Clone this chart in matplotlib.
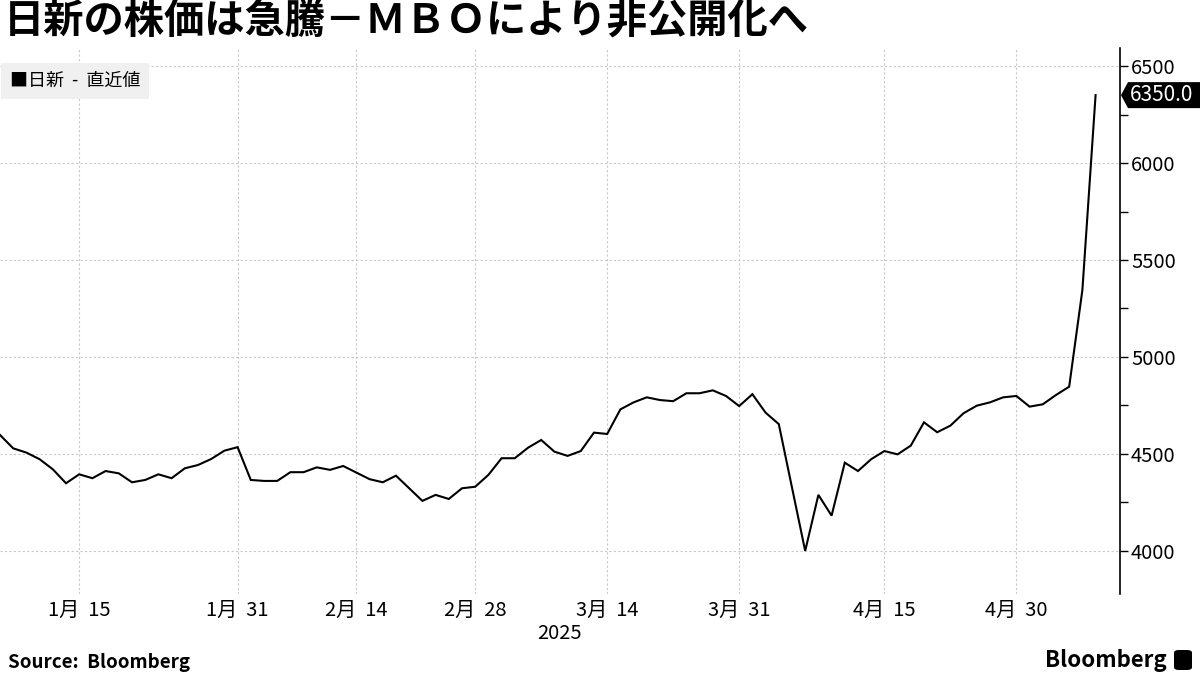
import numpy as np
import pandas as pd
import matplotlib
matplotlib.use("Agg")
import matplotlib.pyplot as plt
from matplotlib.patches import Polygon, FancyBboxPatch
from matplotlib.ticker import MultipleLocator
from matplotlib.transforms import IdentityTransform

plt.rcParams['font.family'] = ['Noto Sans CJK JP', 'DejaVu Sans']

# Tokyo trading days, 2025-01-06 .. 2025-05-12
holidays = ['2025-01-13', '2025-02-11', '2025-02-24', '2025-03-20',
            '2025-04-29', '2025-05-05', '2025-05-06']
dates = pd.bdate_range('2025-01-06', '2025-05-12', freq='C', holidays=holidays)

# closing price (yen)
prices = [4598, 4529, 4507, 4473, 4421, 4349, 4395, 4375, 4412, 4400,
          4354, 4366, 4395, 4375, 4426, 4443, 4474, 4517, 4535, 4366,
          4361, 4361, 4406, 4406, 4431, 4418, 4438, 4404, 4370, 4354,
          4388, 4323, 4258, 4289, 4268, 4323, 4331, 4392, 4478, 4478,
          4532, 4572, 4512, 4490, 4515, 4610, 4603, 4730, 4766, 4792,
          4778, 4772, 4813, 4813, 4828, 4799, 4747, 4808, 4713, 4654,
          4327, 4000, 4289, 4182, 4455, 4412, 4473, 4515, 4498, 4543,
          4663, 4612, 4646, 4710, 4749, 4766, 4792, 4799, 4744, 4756,
          4804, 4847, 5345, 6350]

tick_dates = ['2025-01-15', '2025-01-31', '2025-02-14', '2025-02-28',
              '2025-03-14', '2025-03-31', '2025-04-15', '2025-04-30']

title = '日新の株価は急騰－ＭＢＯにより非公開化へ'
legend_label = '■日新  -  直近値'

xx = np.arange(len(prices))
tick_pos = [dates.get_loc(pd.Timestamp(d)) for d in tick_dates]
tick_lbl = [f'{pd.Timestamp(d).month}月  {pd.Timestamp(d).day}' for d in tick_dates]

fig = plt.figure(figsize=(12, 6.75), dpi=100)
W, H = 1200, 675
ax = fig.add_axes([0.0, (H - 594) / H, 1120 / W, (594 - 48) / H])

ax.plot(xx, prices, color='black', lw=1.5, zorder=3, solid_joinstyle='miter')

ax.set_xlim(0, 84.85)
ax.set_ylim(3778, 6593)

ax.yaxis.tick_right()
ax.yaxis.set_major_locator(MultipleLocator(500))
ax.yaxis.set_minor_locator(MultipleLocator(250))
ax.tick_params(axis='y', which='both', direction='out', length=6, width=1,
               labelsize=14.5, pad=2, color='black')
ax.set_xticks(tick_pos)
ax.set_xticklabels(tick_lbl)
ax.tick_params(axis='x', length=0, labelsize=14.5, pad=4)

for s in ['left', 'top', 'bottom']:
    ax.spines[s].set_visible(False)
ax.spines['right'].set_linewidth(1.2)

ax.grid(True, which='major', color='#c8c8c8', lw=0.8, ls=(0, (2, 2)))

ax.text(0.5, -0.053, '2025', transform=ax.transAxes, ha='center', va='top',
        fontsize=14.5)

# legend box
ax.text(0.009, 0.94, legend_label, transform=ax.transAxes, ha='left',
        va='center', fontsize=13, zorder=5,
        bbox=dict(boxstyle='square,pad=0.5', fc='#f0f0f0', ec='none'))

# last value tag
fig.canvas.draw()
x0 = ax.transAxes.transform((1, 0))[0]
y0 = ax.transData.transform((0, prices[-1]))[1]
tag = Polygon([(x0 + 1, y0), (x0 + 8, y0 + 13), (W, y0 + 13),
               (W, y0 - 13), (x0 + 8, y0 - 13)], closed=True,
              fc='black', ec='none', transform=IdentityTransform())
fig.add_artist(tag)
fig.text((x0 + 10) / W, y0 / H, f'{prices[-1]:.1f}', color='white',
         fontsize=15, ha='left', va='center')

fig.text(0.003, 1 - 21 / H, title, fontsize=29, fontweight='bold',
         ha='left', va='center')
fig.text(8 / W, 1 - 662 / H, 'Source:  Bloomberg', fontsize=13.5,
         fontweight='bold', ha='left', va='center')
fig.text(1167 / W, 1 - 660 / H, 'Bloomberg', fontsize=16, fontweight='bold',
         ha='right', va='center')
icon = FancyBboxPatch((1174 / W, 1 - 670 / H), 18 / W, 20 / H,
                      boxstyle='round,pad=0,rounding_size=0.004',
                      transform=fig.transFigure, fc='black', ec='none')
fig.add_artist(icon)

fig.savefig('out.png', dpi=100)
